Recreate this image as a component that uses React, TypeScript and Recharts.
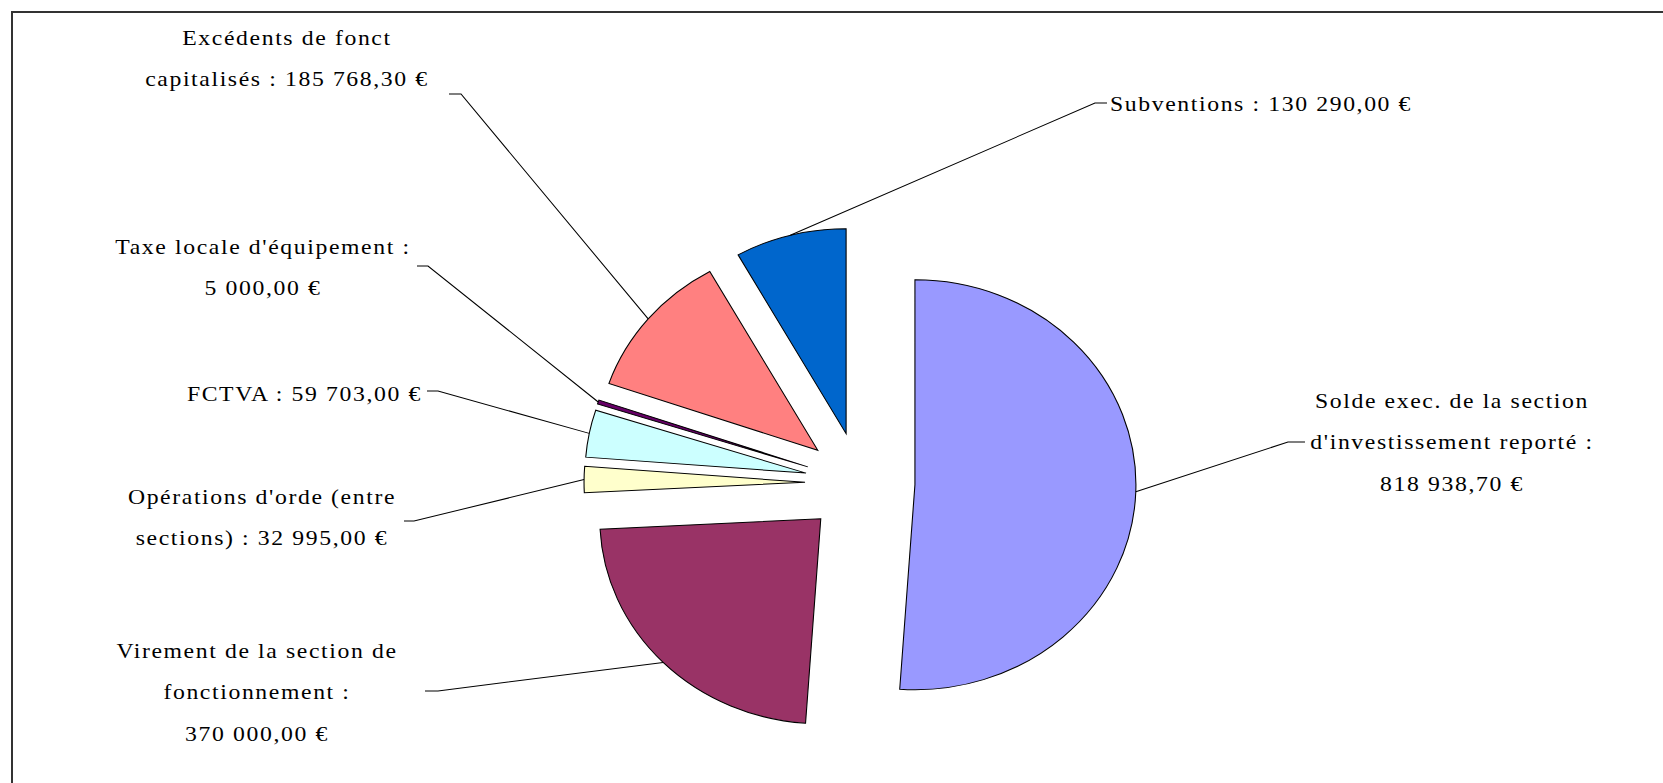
import { PieChart, Pie, Cell, Sector } from "recharts"

const CATEGORIES = [
  "Solde exec. de la section d'investissement reporté",
  "Virement de la section de fonctionnement",
  "Opérations d'orde (entre sections)",
  "FCTVA",
  "Taxe locale d'équipement",
  "Excédents de fonct capitalisés",
  "Subventions",
]

const AMOUNTS = [818938.7, 370000, 32995, 59703, 5000, 185768.3, 130290]

const COLORS = ["#9999FF", "#993366", "#FFFFCC", "#CCFFFF", "#660066", "#FF8080", "#0066CC"]

// label text as Excel wrapped it, {v} is replaced by the amount
const LABEL_TEMPLATES = [
  ["Solde exec. de la section", "d'investissement reporté :", "{v}"],
  ["Virement de la section de", "fonctionnement :", "{v}"],
  ["Opérations d'orde (entre", "sections) : {v}"],
  ["FCTVA : {v}"],
  ["Taxe locale d'équipement :", "{v}"],
  ["Excédents de fonct", "capitalisés : {v}"],
  ["Subventions : {v}"],
]

// the original image is stretched horizontally
const SX = 1.078
const WIDTH = 1663
const HEIGHT = 783
const CX = 860 / SX
const CY = 483
const RADIUS = 205
const EXPLODE = 51
const FONT_SIZE = 22
const LINE_HEIGHT = 41.5
const RAD = Math.PI / 180

// page pixel positions of each label block and its leader line
const LABEL_LAYOUT = [
  { x: 1452, y: 408, anchor: "middle", elbow: [1288, 442], end: [1305, 442] },
  { x: 257, y: 658, anchor: "middle", elbow: [438, 691], end: [425, 691] },
  { x: 262, y: 504, anchor: "middle", elbow: [414, 521], end: [404, 521] },
  { x: 422, y: 401, anchor: "end", elbow: [438, 391], end: [427, 391] },
  { x: 263, y: 254, anchor: "middle", elbow: [428, 266], end: [417, 266] },
  { x: 287, y: 45, anchor: "middle", elbow: [461, 94], end: [449, 94] },
  { x: 1110, y: 111, anchor: "start", elbow: [1095, 103], end: [1107, 103] },
]

const pieData = CATEGORIES.map((name, i) => ({ name, value: AMOUNTS[i] }))

function formatEuro(v: number) {
  const [int, dec] = v.toFixed(2).split(".")
  return int.replace(/\B(?=(\d{3})+(?!\d))/g, " ") + "," + dec + " €"
}

function ExplodedSlice(props: any) {
  const { cx, cy, midAngle } = props
  const dx = EXPLODE * Math.cos(-midAngle * RAD)
  const dy = EXPLODE * Math.sin(-midAngle * RAD)
  return <Sector {...props} cx={cx + dx} cy={cy + dy} />
}

function renderLabel(props: any) {
  const { cx, cy, midAngle, outerRadius, index } = props
  const layout = LABEL_LAYOUT[index]
  const reach = outerRadius + EXPLODE
  const ax = cx + reach * Math.cos(-midAngle * RAD)
  const ay = cy + reach * Math.sin(-midAngle * RAD)
  const lines = LABEL_TEMPLATES[index].map((t) => t.replace("{v}", formatEuro(AMOUNTS[index])))
  return (
    <g key={`label-${index}`}>
      <polyline
        points={`${ax},${ay} ${layout.elbow[0] / SX},${layout.elbow[1]} ${layout.end[0] / SX},${layout.end[1]}`}
        fill="none"
        stroke="#000"
        strokeWidth={1}
      />
      <text
        textAnchor={layout.anchor}
        fontFamily="'Liberation Serif', 'Times New Roman', serif"
        fontSize={FONT_SIZE}
        letterSpacing={1.5}
        fill="#000"
      >
        {lines.map((line, i) => (
          <tspan key={i} x={layout.x / SX} y={layout.y + i * LINE_HEIGHT}>
            {line}
          </tspan>
        ))}
      </text>
    </g>
  )
}

export default function App() {
  return (
    <div
      style={{
        position: "absolute",
        left: 0,
        top: 0,
        width: WIDTH,
        height: HEIGHT,
        overflow: "hidden",
        background: "#fff",
      }}
    >
      <div
        style={{
          position: "absolute",
          left: 11,
          top: 11,
          width: WIDTH + 40,
          height: HEIGHT + 40,
          border: "2px solid #333",
        }}
      />
      <div style={{ transform: `scaleX(${SX})`, transformOrigin: "0 0", position: "absolute", left: 0, top: 0 }}>
        <PieChart width={WIDTH / SX} height={HEIGHT} margin={{ top: 0, right: 0, bottom: 0, left: 0 }}>
          <Pie
            data={pieData}
            dataKey="value"
            nameKey="name"
            cx={CX}
            cy={CY}
            outerRadius={RADIUS}
            startAngle={90}
            endAngle={-270}
            stroke="#000"
            strokeWidth={1}
            shape={ExplodedSlice}
            label={renderLabel}
            labelLine={false}
            isAnimationActive={false}
          >
            {pieData.map((entry, index) => (
              <Cell key={`cell-${index}`} fill={COLORS[index]} />
            ))}
          </Pie>
        </PieChart>
      </div>
    </div>
  )
}
